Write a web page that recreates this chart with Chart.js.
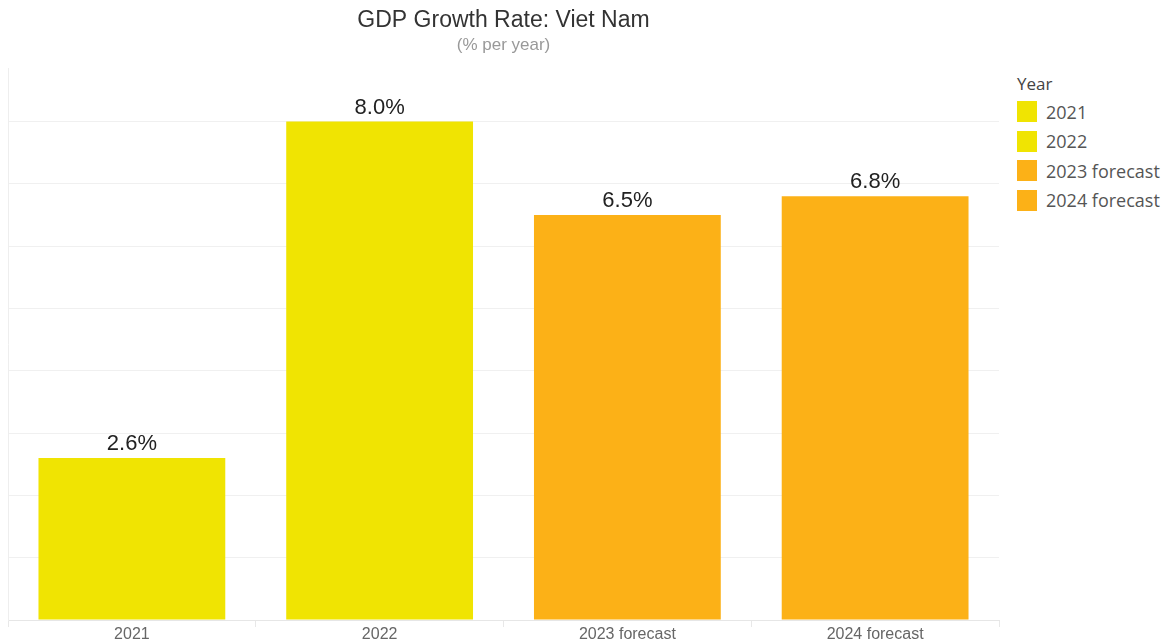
<!DOCTYPE html>
<html>
<head>
<meta charset="utf-8">
<script src="https://cdn.jsdelivr.net/npm/chart.js@4"></script>
<style>
  html, body { margin: 0; padding: 0; background: #fff; }
  #wrap { position: absolute; left: 0; top: 0; width: 1005px; height: 643px; }
  #legend { position: absolute; left: 1017px; top: 71px; font-family: "Open Sans", sans-serif; font-size: 18px; color: #555; }
  #legend .ttl { color: #444; font-size: 17px; height: 26px; line-height: 26px; }
  #legend .row { height: 29.5px; display: flex; align-items: center; }
  #legend .box { width: 20px; height: 21px; margin-right: 9px; }
</style>
</head>
<body>
<div id="wrap"><canvas id="chart"></canvas></div>
<div id="legend"></div>
<script>
// data
const years = ["2021", "2022", "2023 forecast", "2024 forecast"];
const growth = [2.6, 8.0, 6.5, 6.8];
const barColors = ["#F0E402", "#F0E402", "#FCB117", "#FCB117"];

// legend (html, right side)
const legendBox = document.getElementById("legend");
legendBox.innerHTML = '<div class="ttl">Year</div>';
years.forEach((y, i) => {
  legendBox.innerHTML += '<div class="row"><div class="box" style="background:' + barColors[i] + '"></div>' + y + '</div>';
});

// value labels above bars
const valueLabels = {
  id: "valueLabels",
  afterDatasetsDraw(chart) {
    const ctx = chart.ctx;
    const meta = chart.getDatasetMeta(0);
    ctx.save();
    ctx.font = "22px 'Liberation Sans', Arial, sans-serif";
    ctx.fillStyle = "#222";
    ctx.textAlign = "center";
    ctx.textBaseline = "alphabetic";
    meta.data.forEach((bar, i) => {
      ctx.fillText(growth[i].toFixed(1) + "%", bar.x, bar.y - 8);
    });
    ctx.restore();
  }
};

new Chart(document.getElementById("chart"), {
  type: "bar",
  data: {
    labels: years,
    datasets: [{
      data: growth,
      backgroundColor: barColors,
      categoryPercentage: 1,
      barPercentage: 0.754
    }]
  },
  options: {
    responsive: true,
    maintainAspectRatio: false,
    animation: false,
    layout: { padding: { left: 8, right: 6, top: 0, bottom: 0 } },
    plugins: {
      legend: { display: false },
      tooltip: { enabled: false },
      title: {
        display: true,
        text: "GDP Growth Rate: Viet Nam",
        color: "#333",
        font: { family: "'Liberation Sans', Arial, sans-serif", size: 23, weight: "normal", lineHeight: 1.2 },
        padding: { top: 7, bottom: 0 }
      },
      subtitle: {
        display: true,
        text: "(% per year)",
        color: "#999",
        font: { family: "'Liberation Sans', Arial, sans-serif", size: 17, lineHeight: 1.2 },
        padding: { top: 1, bottom: 12 }
      }
    },
    scales: {
      x: {
        grid: { offset: true, drawOnChartArea: false, drawTicks: true, tickLength: 7, color: "#e8e8e8" },
        border: { display: true, color: "#e6e6e6" },
        ticks: {
          color: "#666",
          padding: 0,
          font: { family: "'Liberation Sans', Arial, sans-serif", size: 16, lineHeight: 1 }
        }
      },
      y: {
        min: 0,
        max: 8.86,
        afterBuildTicks: (scale) => {
          scale.ticks = scale.ticks.filter(t => Number.isInteger(t.value));
        },
        ticks: { display: false, stepSize: 1 },
        grid: { color: "#f0f0f0", drawTicks: false },
        border: { display: true, color: "#eeeeee" }
      }
    }
  },
  plugins: [valueLabels]
});
</script>
</body>
</html>
